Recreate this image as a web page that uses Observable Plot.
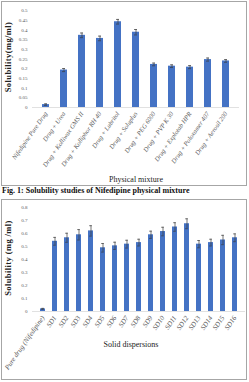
<!DOCTYPE html>
<html>
<head>
<meta charset="utf-8">
<script src="https://cdn.jsdelivr.net/npm/d3@7"></script>
<script src="https://cdn.jsdelivr.net/npm/@observablehq/plot@0.6"></script>
<style>
  html, body { margin: 0; padding: 0; background: #fff; }
  #wrap { position: relative; width: 249px; height: 382px; overflow: hidden; font-family: "Liberation Serif", "DejaVu Serif", serif; }
  .box { position: absolute; border: 1px solid #a6a6a6; box-sizing: border-box; }
  .abs { position: absolute; white-space: nowrap; line-height: 1; }
  .ytitle { font-weight: bold; font-size: 8.5px; letter-spacing: 0.4px; transform: translate(-50%, -50%) rotate(-90deg); color: #222; }
  .xtitle { font-size: 8px; transform: translate(-50%, -50%); color: #222; }
  .chart { position: absolute; left: 0; }
</style>
</head>
<body>
<div id="wrap">
  <div class="box" style="left:1px;top:1px;width:246px;height:185px;"></div>
  <div class="box" style="left:1px;top:199px;width:246px;height:181px;"></div>
  <div id="c1" class="chart" style="top:0px;"></div>
  <div id="c2" class="chart" style="top:200px;"></div>
  <div class="abs ytitle" style="left:8px;top:57px;">Solubility(mg/ml)</div>
  <div class="abs xtitle" style="left:136px;top:180px;">Physical mixture</div>
  <div class="abs" style="left:2px;top:187px;font-size:8px;font-weight:bold;color:#111;">Fig. 1: Solubility studies of Nifedipine physical mixture</div>
  <div class="abs ytitle" style="left:8px;top:258px;">Solubility (mg /ml)</div>
  <div class="abs xtitle" style="left:131px;top:345px;">Solid dispersions</div>
</div>
<script>
// ---- Chart 1: physical mixtures ----
const mixLabels = [
  "Nifedipine Pure Drug", "Drug + Urea", "Drug + Kolliwax GMS II", "Drug + Kolliphor RH 40",
  "Drug + Lubritol", "Drug + Soluplus", "Drug + PEG 6000", "Drug + PVP K 30",
  "Drug + Explotab HPR", "Drug + Poloxamer 407", "Drug + Aerosil 200"
];
const mixValues = [0.015, 0.193, 0.372, 0.356, 0.442, 0.388, 0.222, 0.213, 0.208, 0.247, 0.240];
const mixErrors = [0.004, 0.008, 0.012, 0.012, 0.012, 0.014, 0.007, 0.007, 0.008, 0.008, 0.007];
const mixTicks = [0, 0.05, 0.1, 0.15, 0.2, 0.25, 0.3, 0.35, 0.4, 0.45, 0.5];

// ---- Chart 2: solid dispersions ----
const sdLabels = [
  "Pure drug (Nifedipine)", "SD1", "SD2", "SD3", "SD4", "SD5", "SD6", "SD7", "SD8",
  "SD9", "SD10", "SD11", "SD12", "SD13", "SD14", "SD15", "SD16"
];
const sdValues = [0.02, 0.54, 0.567, 0.59, 0.62, 0.49, 0.505, 0.518, 0.53, 0.59, 0.615, 0.65, 0.675, 0.518, 0.53, 0.55, 0.567];
const sdErrors = [0.004, 0.03, 0.035, 0.04, 0.04, 0.033, 0.028, 0.03, 0.026, 0.028, 0.033, 0.033, 0.038, 0.028, 0.026, 0.036, 0.03];
const sdTicks = [0, 0.1, 0.2, 0.3, 0.4, 0.5, 0.6, 0.7, 0.8];

const barColor = "#4472C4";
const errColor = "#3a3a3a";
const textColor = "#595959";
const font = "'Liberation Serif', 'DejaVu Serif', serif";

function chart({labels, values, errors, ticks, yMax, height, marginTop, marginBottom, marginRight, paddingInner, paddingOuter, capInset, labelSize}) {
  const data = labels.map((label, i) => ({label, value: values[i], err: errors[i]}));
  return Plot.plot({
    width: 249,
    height,
    marginLeft: 32,
    marginRight,
    marginTop,
    marginBottom,
    style: {fontFamily: font, background: "transparent", overflow: "visible"},
    x: {domain: labels, paddingInner, paddingOuter, label: null},
    y: {domain: [0, yMax], label: null},
    marks: [
      Plot.ruleY([0], {stroke: "#d9d9d9", strokeWidth: 0.8}),
      Plot.barY(data, {x: "label", y: "value", fill: barColor}),
      Plot.ruleX(data, {x: "label", y1: d => d.value - d.err, y2: d => d.value + d.err, stroke: errColor, strokeWidth: 0.7}),
      Plot.tickY(data, {x: "label", y: d => d.value + d.err, insetLeft: capInset, insetRight: capInset, stroke: errColor, strokeWidth: 0.7}),
      Plot.tickY(data, {x: "label", y: d => d.value - d.err, insetLeft: capInset, insetRight: capInset, stroke: errColor, strokeWidth: 0.7}),
      Plot.axisY({ticks, tickFormat: d => String(d), tickSize: 0, tickPadding: 5, fontSize: 5, fill: textColor, label: null}),
      Plot.axisX({tickRotate: -55, tickSize: 0, tickPadding: 5, fontSize: labelSize, fontStyle: "italic", fill: textColor, label: null})
    ]
  });
}

document.getElementById("c1").appendChild(chart({
  labels: mixLabels, values: mixValues, errors: mixErrors, ticks: mixTicks, yMax: 0.5,
  height: 187, marginTop: 10, marginBottom: 80, marginRight: 10,
  paddingInner: 0.63, paddingOuter: 0.29, capInset: 2, labelSize: 6.5
}));

document.getElementById("c2").appendChild(chart({
  labels: sdLabels, values: sdValues, errors: sdErrors, ticks: sdTicks, yMax: 0.8,
  height: 182, marginTop: 7, marginBottom: 71, marginRight: 4,
  paddingInner: 0.6, paddingOuter: 0.46, capInset: 1.2, labelSize: 7
}));
</script>
</body>
</html>
